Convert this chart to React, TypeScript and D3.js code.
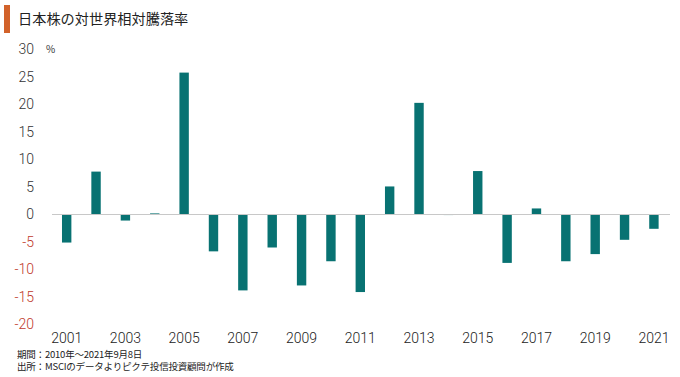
import React from "react";
import * as d3 from "d3";

const years = [2001, 2002, 2003, 2004, 2005, 2006, 2007, 2008, 2009, 2010, 2011, 2012, 2013, 2014, 2015, 2016, 2017, 2018, 2019, 2020, 2021];
const values = [-5.1, 7.8, -1.1, 0.2, 25.8, -6.7, -13.8, -6.0, -12.9, -8.5, -14.1, 5.1, 20.3, -0.1, 7.9, -8.8, 1.1, -8.5, -7.2, -4.6, -2.6];
const yTicks = [30, 25, 20, 15, 10, 5, 0, -5, -10, -15, -20];
const xLabelYears = [2001, 2003, 2005, 2007, 2009, 2011, 2013, 2015, 2017, 2019, 2021];
const title = "日本株の対世界相対騰落率";
const notes = ["期間：2010年～2021年9月8日", "出所：MSCIのデータよりピクテ投信投資顧問が作成"];

const W = 680;
const H = 377;
const FONT = "'Noto Sans CJK JP', 'Noto Sans', sans-serif";
const NUMFONT = "Roboto, 'Noto Sans', sans-serif";

export default function App() {
  const x = d3.scaleBand<number>().domain(years).range([52, 668.6]).paddingInner(0.68).paddingOuter(0.34);
  const y = d3.scaleLinear().domain([-20, 30]).range([324.5, 49.5]);
  const bw = x.bandwidth();

  return (
    <svg width={W} height={H} style={{ position: "absolute", left: 0, top: 0, background: "#fff" }} fontFamily={FONT}>
      <rect x={4} y={5} width={6} height={28} fill="#d2622a" />
      <text x={18} y={23.5} fontSize={14.2} fill="#222">{title}</text>

      {yTicks.map((t) => (
        <text key={t} x={34} y={y(t)} dy="0.35em" textAnchor="end" fontSize={14} fontFamily={NUMFONT} fontWeight={300} fill={t < 0 ? "#c0392b" : "#333"}>
          {t}
        </text>
      ))}
      <text x={46} y={y(30)} dy="0.35em" fontSize={10} fill="#333">%</text>

      {years.map((yr, i) => {
        const v = values[i];
        const y0 = y(0);
        const y1 = y(v);
        return (
          <rect key={yr} x={x(yr)} y={Math.min(y0, y1)} width={bw} height={Math.abs(y1 - y0)} fill="#087272" />
        );
      })}
      <line x1={52} x2={670} y1={y(0)} y2={y(0)} stroke="#c8c8c8" strokeWidth={1} />

      {xLabelYears.map((yr) => (
        <text key={yr} x={(x(yr) as number) + bw / 2} y={342.5} textAnchor="middle" fontSize={14} fontFamily={NUMFONT} fontWeight={300} fill="#222">
          {yr}
        </text>
      ))}

      {notes.map((n, i) => (
        <text key={i} x={17} y={357.5 + i * 12.5} fontSize={9.5} letterSpacing={-0.2} fill="#222">
          {n}
        </text>
      ))}
    </svg>
  );
}
